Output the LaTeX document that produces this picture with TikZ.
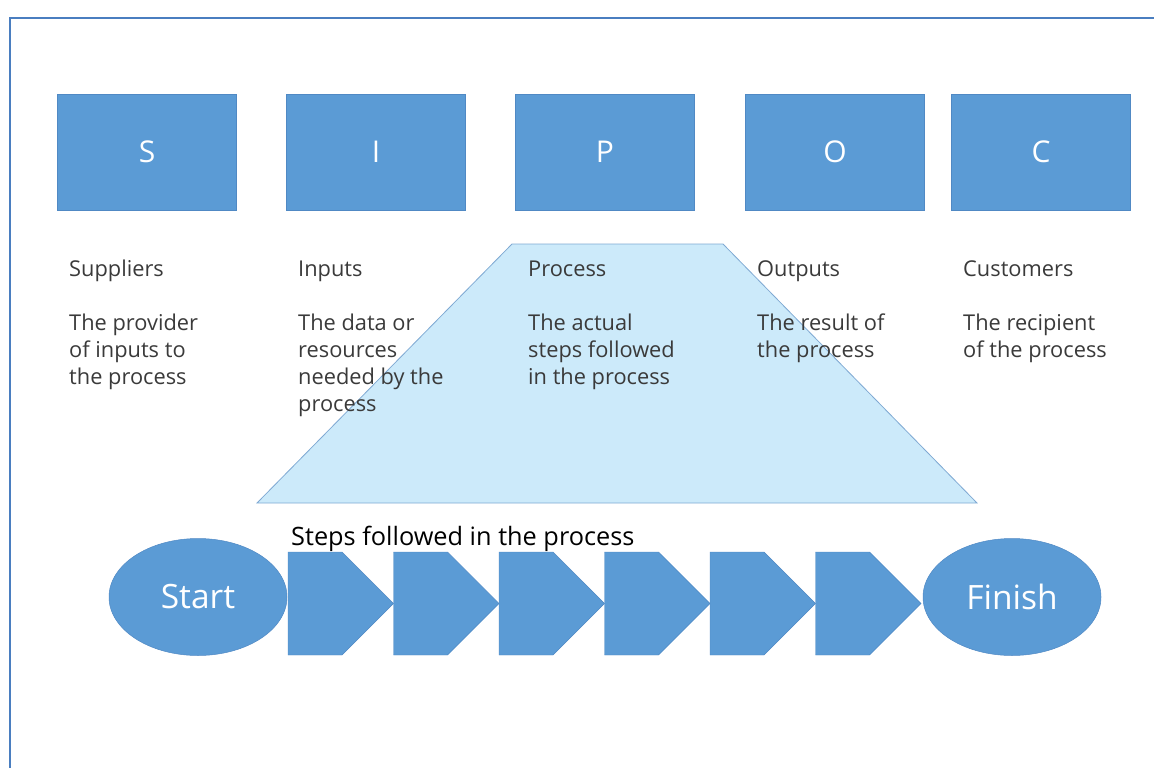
\documentclass[tikz,border=0pt]{standalone}
\usepackage{fontspec}
\setmainfont{Open Sans}
\usetikzlibrary{shapes.geometric,shapes.symbols}
\definecolor{boxblue}{HTML}{5B9BD5}
\definecolor{boxedge}{HTML}{5089C4}
\definecolor{framecol}{HTML}{4A7EC0}
\definecolor{trapfill}{HTML}{CCEAFA}
\definecolor{trapedge}{HTML}{7FA9D3}
\definecolor{desctext}{HTML}{3A3A3A}
\begin{document}
\begin{tikzpicture}[x=1pt,y=-1pt,
  letterbox/.style={rectangle,fill=boxblue,draw=boxedge,line width=0.6pt,
    minimum width=179pt,minimum height=116pt,inner sep=0pt,outer sep=0pt,
    text=white,font=\fontsize{30}{36}\selectfont},
  % anchored at the baseline of the last line of each block
  desc/.style={anchor=base west,align=left,inner sep=0pt,text=desctext,
    font=\fontsize{21.8}{27}\selectfont},
  terminal/.style={ellipse,fill=boxblue,draw=boxedge,line width=0.5pt,
    minimum width=178pt,minimum height=117pt,inner sep=0pt,outer sep=0pt,
    text=white,font=\fontsize{33.5}{38}\selectfont},
  stepbox/.style={signal,signal from=nowhere,signal to=east,signal pointer angle=90,
    fill=boxblue,draw=boxedge,line width=0.4pt,anchor=west,
    minimum width=105.5pt,minimum height=103pt,inner sep=0pt,outer sep=0pt}]
\useasboundingbox (0,0) rectangle (1154,768);
\begin{scope}
\clip (0,0) rectangle (1154,768);
% outer frame, running past the right and lower edges
\draw[framecol,line width=2pt] (10,18) rectangle (1170,790);
\end{scope}

% SIPOC heading boxes
\node[letterbox] (S) at (147,152) {S};
\node[letterbox] (I) at (376,152) {I};
\node[letterbox] (P) at (605,152) {P};
\node[letterbox] (O) at (835,152) {O};
\node[letterbox] (C) at (1041,152) {C};

% funnel behind the descriptions
\coordinate (tl) at (512,244);
\coordinate (tr) at (723,244);
\coordinate (br) at (977,503);
\coordinate (bl) at (257,503);
\draw[fill=trapfill,draw=trapedge,line width=0.8pt] (tl) -- (tr) -- (br) -- (bl) -- cycle;

% column descriptions (heading baseline 276, line pitch 27)
\node[desc] (dS) at (69,384) {Suppliers\\[27pt]The provider\\of inputs to\\the process};
\node[desc] (dI) at (298,411) {Inputs\\[27pt]The data or\\resources\\needed by the\\process};
\node[desc] (dP) at (528,384) {Process\\[27pt]The actual\\steps followed\\in the process};
\node[desc] (dO) at (757,357) {Outputs\\[27pt]The result of\\the process};
\node[desc] (dC) at (963,357) {Customers\\[27pt]The recipient\\of the process};

% process flow
\node[anchor=base west,inner sep=0pt,text=black,font=\fontsize{25.3}{30}\selectfont] (steps) at (291,545) {Steps followed in the process};
\node[terminal] (start) at (198,597) {Start};
\foreach \k in {1,...,6} {
  \node[stepbox] (s\k) at ({288+105.5*(\k-1)},603.5) {};
}
\node[terminal] (finish) at (1012,597) {Finish};
\end{tikzpicture}
\end{document}
